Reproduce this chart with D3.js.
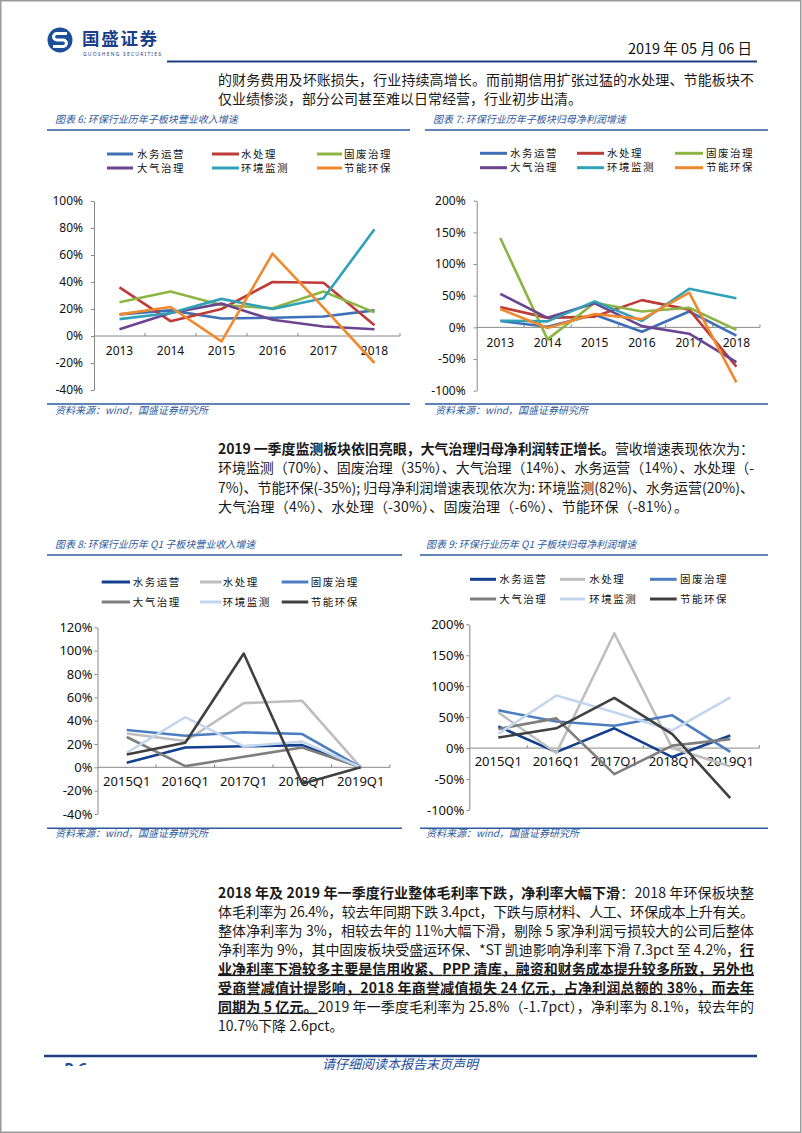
<!DOCTYPE html>
<html><head><meta charset="utf-8">
<script src="https://cdn.jsdelivr.net/npm/d3@7"></script>
<style>
body{margin:0;background:#fff}
svg{display:block}
</style>
</head><body>
<svg id="page" width="802" height="1133"></svg>
<script>
// ---------------- DATA ----------------
const seriesNames = ["水务运营","水处理","固废治理","大气治理","环境监测","节能环保"];
const years = ["2013","2014","2015","2016","2017","2018"];
const quarters = ["2015Q1","2016Q1","2017Q1","2018Q1","2019Q1"];

// 图表6 营业收入增速 (%)
const rev_waterOps   = [16, 19, 13, 13.5, 14.5, 19];
const rev_waterTreat = [36, 11, 20, 40, 39.5, 8];
const rev_solidWaste = [25, 33, 23, 20.5, 33, 17.5];
const rev_air        = [5, 17, 24, 12, 7, 5];
const rev_monitor    = [12.5, 17, 27.5, 20, 28, 79];
const rev_energy     = [16, 21.5, -4, 61, 21, -20];

// 图表7 归母净利润增速 (%)
const np_waterOps   = [10, 1, 20, -7, 25, -13];
const np_waterTreat = [32, 15, 17, 43, 28, -62];
const np_solidWaste = [141, -19, 39, 25, 31, -4];
const np_air        = [53, 15, 38, 2, -10, -55];
const np_monitor    = [10.5, 9.5, 41, 10, 61, 46];
const np_energy     = [29, -1, 21, 13, 55, -87];

// 图表8 Q1 营业收入增速 (%)
const q1rev_waterOps   = [4, 17, 18, 19, 0];
const q1rev_waterTreat = [29, 22.5, 55, 57, 0];
const q1rev_solidWaste = [32, 27, 30, 28.5, 0];
const q1rev_air        = [26, 1, 9, 17, 0];
const q1rev_monitor    = [12.5, 43, 18, 22, 0];
const q1rev_energy     = [11, 21, 97.5, -14, 0];

// 图表9 Q1 归母净利润增速 (%)
const q1np_waterOps   = [35, -6.5, 32, -14.5, 20.5];
const q1np_waterTreat = [57.5, -8, 185.5, 0, -29.5];
const q1np_solidWaste = [61, 43, 36, 53, -6];
const q1np_air        = [31, 48, -42, 4, 14.5];
const q1np_monitor    = [23, 85, 58, 28.5, 82];
const q1np_energy     = [17, 32, 81, 22.5, -81];

const ticks6 = [-40,-20,0,20,40,60,80,100];
const ticks7 = [-100,-50,0,50,100,150,200];
const ticks8 = [-40,-20,0,20,40,60,80,100,120];
const ticks9 = [-100,-50,0,50,100,150,200];

// ---------------- STYLE ----------------
const CJK = '"Noto Sans CJK SC","Noto Sans",sans-serif';
const LAT = '"Noto Sans","Noto Sans CJK SC",sans-serif';
const BLUE = "#2E5A9E";
const NAVY = "#1D3F80";
const paletteA = ["#3F6FB6","#BE3B37","#8DB543","#6C4591","#2FA2B8","#F0892D"];
const paletteB = ["#123F8E","#BEBEBE","#4C7DC0","#7F7F7F","#C3D6EE","#404040"];

const svg = d3.select("#page");
svg.append("rect").attr("width",802).attr("height",1133).attr("fill","#fff");
svg.append("rect").attr("x",0.75).attr("y",0.75).attr("width",800).attr("height",1131.5)
  .attr("fill","none").attr("stroke","#9a9a9a").attr("stroke-width",1.5);

// ---------------- HEADER ----------------
const logo = svg.append("g");
logo.append("circle").attr("cx",60).attr("cy",40).attr("r",12.5).attr("fill","#1B4F9C");
logo.append("path").attr("d","M67 33.5 H56.8 A3.25 3.25 0 0 0 56.8 40 H63.2 A3.25 3.25 0 0 1 63.2 46.5 H53")
  .attr("fill","none").attr("stroke","#fff").attr("stroke-width",3);
logo.append("text").attr("x",82).attr("y",45).text("国盛证券")
  .attr("font-size",17.5).attr("font-weight","bold").attr("fill","#1B3F8A")
  .attr("letter-spacing",1.7).style("font-family",CJK);
logo.append("text").attr("x",83).attr("y",56).text("GUOSHENG SECURITIES")
  .attr("font-size",5).attr("fill","#1B3F8A").attr("textLength",78).attr("lengthAdjust","spacing")
  .style("font-family",LAT);
svg.append("text").attr("x",752).attr("y",54).attr("text-anchor","end")
  .text("2019 年 05 月 06 日").attr("font-size",14.5).attr("fill","#111")
  .style("font-family",CJK);
svg.append("line").attr("x1",167).attr("x2",757).attr("y1",61.5).attr("y2",61.5)
  .attr("stroke",NAVY).attr("stroke-width",2);

// ---------------- PARAGRAPHS ----------------
function drawPara(lines, widths, x, centers){
  lines.forEach((segs,i)=>{
    const t = svg.append("text").attr("x",x).attr("y",centers[i]+5)
      .attr("font-size",14).attr("fill","#1a1a1a").style("font-family",CJK)
      .attr("xml:space","preserve");
    if (widths[i]) t.attr("textLength",widths[i]).attr("lengthAdjust","spacing");
    segs.forEach(([s,st])=>{
      const ts = t.append("tspan").text(s);
      if (st.includes("b")) ts.attr("font-weight","bold");
      if (st.includes("u")) ts.style("text-decoration","underline");
    });
  });
}
const p1 = [
  [["的财务费用及坏账损失，行业持续高增长。而前期信用扩张过猛的水处理、节能板块不","n"]],
  [["仅业绩惨淡，部分公司甚至难以日常经营，行业初步出清。","n"]]
];
const p2 = [
  [["2019 一季度监测板块依旧亮眼，大气治理归母净利润转正增长。","b"],["营收增速表现依次为：","n"]],
  [["环境监测（70%）、固废治理（35%）、大气治理（14%）、水务运营（14%）、水处理（-","n"]],
  [["7%)、节能环保(-35%); 归母净利润增速表现依次为: 环境监测(82%)、水务运营(20%)、","n"]],
  [["大气治理（4%）、水处理（-30%）、固废治理（-6%）、节能环保（-81%）。","n"]]
];
const p3 = [
  [["2018 年及 2019 年一季度行业整体毛利率下跌，净利率大幅下滑","b"],["：2018 年环保板块整","n"]],
  [["体毛利率为 26.4%，较去年同期下跌 3.4pct，下跌与原材料、人工、环保成本上升有关。","n"]],
  [["整体净利率为 3%，相较去年的 11%大幅下滑，剔除 5 家净利润亏损较大的公司后整体","n"]],
  [["净利率为 9%，其中固废板块受盛运环保、*ST 凯迪影响净利率下滑 7.3pct 至 4.2%，","n"],["行","bu"]],
  [["业净利率下滑较多主要是信用收紧、PPP 清库，融资和财务成本提升较多所致，另外也","bu"]],
  [["受商誉减值计提影响，2018 年商誉减值损失 24 亿元，占净利润总额的 38%，而去年","bu"]],
  [["同期为 5 亿元。","bu"],["2019 年一季度毛利率为 25.8%（-1.7pct），净利率为 8.1%，较去年的","n"]],
  [["10.7%下降 2.6pct。","n"]]
];
drawPara(p1,[536,null],218,[79.5,99]);
drawPara(p2,[536,536,536,470],218,[449,468.3,487.7,507]);
drawPara(p3,[536,536,536,536,536,536,536,null],218,d3.range(8).map(i=>892.7+19*i));

// ---------------- CHARTS ----------------
function drawChart(c){
  const g = svg.append("g");
  g.append("text").attr("x",c.titleX).attr("y",c.titleY).text(c.title)
    .attr("font-size",10).attr("font-style","italic").attr("fill",BLUE).style("font-family",CJK);
  g.append("line").attr("x1",c.lineX[0]).attr("x2",c.lineX[1]).attr("y1",c.lineY).attr("y2",c.lineY)
    .attr("stroke",BLUE).attr("stroke-width",1.5);
  g.append("line").attr("x1",c.lineX[0]).attr("x2",c.lineX[1]).attr("y1",c.bottomY).attr("y2",c.bottomY)
    .attr("stroke",BLUE).attr("stroke-width",1.5);
  g.append("text").attr("x",c.sourceX).attr("y",c.sourceY).text("资料来源：wind，国盛证券研究所")
    .attr("font-size",10).attr("font-style","italic").attr("fill",BLUE).style("font-family",CJK);

  const x = d3.scaleBand().domain(c.cats).range([c.x0,c.x1]);
  const y = d3.scaleLinear().domain(c.domain).range([c.yBot,c.yTop]);

  seriesNames.forEach((name,i)=>{
    const col=i%3,row=Math.floor(i/3);
    g.append("line").attr("x1",c.legSample[col][0]).attr("x2",c.legSample[col][1])
      .attr("y1",c.legY[row]).attr("y2",c.legY[row])
      .attr("stroke",c.colors[i]).attr("stroke-width",3);
    g.append("text").attr("x",c.legLabel[col]).attr("y",c.legY[row]+3.6).text(name)
      .attr("font-size",10.5).attr("fill","#111").attr("letter-spacing",1.5).style("font-family",CJK);
  });

  const ya = g.append("g").attr("transform",`translate(${c.x0},0)`)
    .call(d3.axisLeft(y).tickValues(c.ticks).tickSize(3).tickSizeOuter(0).tickPadding(c.yGap)
      .tickFormat(d=>d+"%"));
  ya.selectAll("path,line").attr("stroke","#888");
  ya.selectAll("text").attr("font-size",c.fs).attr("fill","#111").style("font-family",LAT);

  const y0 = y(0);
  const xa = g.append("g").attr("transform",`translate(0,${y0})`)
    .call(d3.axisBottom(x).tickSize(0).tickPadding(c.xOff-0.36*c.fs));
  xa.select(".domain").remove();
  xa.selectAll("text").attr("font-size",c.fs).attr("fill","#111").style("font-family",LAT);
  g.append("line").attr("x1",c.x0).attr("x2",c.x1).attr("y1",y0).attr("y2",y0).attr("stroke","#888");
  d3.range(1,c.cats.length+1).forEach(i=>{
    const bx = c.x0 + i*x.step();
    g.append("line").attr("x1",bx).attr("x2",bx).attr("y1",y0).attr("y2",y0-3).attr("stroke","#888");
  });

  const line = d3.line().x((d,i)=>x(c.cats[i])+x.bandwidth()/2).y(d=>y(d));
  c.series.forEach((s,i)=>{
    g.append("path").attr("d",line(s)).attr("fill","none").attr("stroke",c.colors[i])
      .attr("stroke-width",2.6).attr("stroke-linejoin","round");
  });
}

drawChart({
  title:"图表 6: 环保行业历年子板块营业收入增速", titleX:55, titleY:122.5, lineX:[47,410], lineY:130,
  bottomY:404, sourceX:55, sourceY:414,
  cats:years, series:[rev_waterOps,rev_waterTreat,rev_solidWaste,rev_air,rev_monitor,rev_energy],
  colors:paletteA, domain:[-40,100], ticks:ticks6, x0:94, x1:400, yTop:201, yBot:390,
  legSample:[[107,133],[212,239],[317,342]], legLabel:[137,241,344], legY:[154,168],
  fs:12, xOff:15, yGap:8
});
drawChart({
  title:"图表 7: 环保行业历年子板块归母净利润增速", titleX:433, titleY:122.5, lineX:[425,768], lineY:130,
  bottomY:404, sourceX:435, sourceY:414,
  cats:years, series:[np_waterOps,np_waterTreat,np_solidWaste,np_air,np_monitor,np_energy],
  colors:paletteA, domain:[-100,200], ticks:ticks7, x0:476.7, x1:760, yTop:200.7, yBot:390.7,
  legSample:[[480,507],[577,604],[675,703]], legLabel:[510,607,706], legY:[153.3,167.7],
  fs:12, xOff:15, yGap:8
});
drawChart({
  title:"图表 8: 环保行业历年 Q1 子板块营业收入增速", titleX:55, titleY:548, lineX:[47,402], lineY:555,
  bottomY:828.3, sourceX:55, sourceY:837,
  cats:quarters, series:[q1rev_waterOps,q1rev_waterTreat,q1rev_solidWaste,q1rev_air,q1rev_monitor,q1rev_energy],
  colors:paletteB, domain:[-40,120], ticks:ticks8, x0:97.5, x1:390, yTop:627.3, yBot:814,
  legSample:[[101.7,130],[200,221.7],[281.7,308.3]], legLabel:[132.7,222.7,310.7], legY:[582,602],
  fs:13, xOff:14.5, yGap:2
});
drawChart({
  title:"图表 9: 环保行业历年 Q1 子板块归母净利润增速", titleX:426, titleY:548, lineX:[420,768], lineY:555,
  bottomY:828.3, sourceX:426, sourceY:837,
  cats:quarters, series:[q1np_waterOps,q1np_waterTreat,q1np_solidWaste,q1np_air,q1np_monitor,q1np_energy],
  colors:paletteB, domain:[-100,200], ticks:ticks9, x0:469.3, x1:759.3, yTop:624.3, yBot:810,
  legSample:[[470,496],[560,585],[650,676.7]], legLabel:[499.3,589.3,680], legY:[579.3,599],
  fs:13, xOff:13.5, yGap:2
});

// ---------------- FOOTER ----------------
svg.append("line").attr("x1",44).attr("x2",757).attr("y1",1056).attr("y2",1056)
  .attr("stroke",NAVY).attr("stroke-width",2.5);
svg.append("clipPath").attr("id","pclip").append("rect").attr("x",40).attr("y",1058).attr("width",80).attr("height",8);
svg.append("text").attr("x",63).attr("y",1075).text("P 6").attr("clip-path","url(#pclip)")
  .attr("font-size",16).attr("font-weight","bold").attr("font-style","italic").attr("fill","#1B4F9C")
  .style("font-family",LAT);
svg.append("text").attr("x",400).attr("y",1069).attr("text-anchor","middle").text("请仔细阅读本报告末页声明")
  .attr("font-size",13).attr("font-style","italic").attr("fill","#1B4F9C").style("font-family",CJK);
</script>
</body></html>
